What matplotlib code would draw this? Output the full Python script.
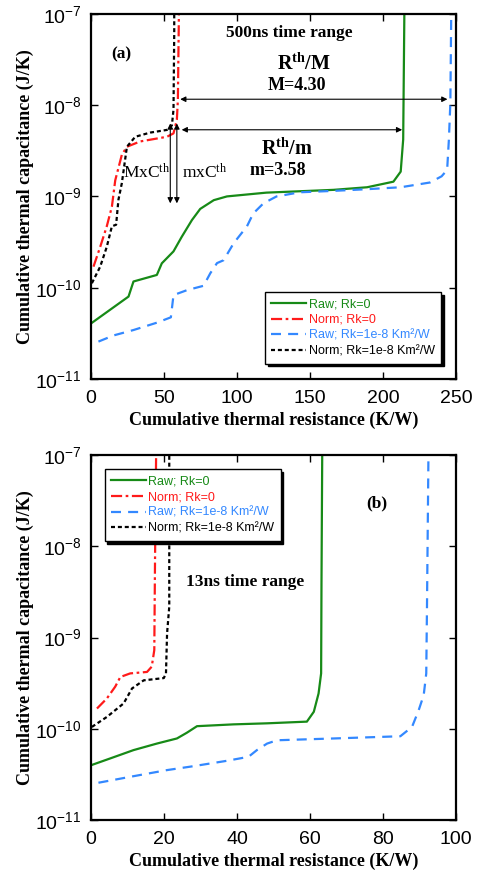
import numpy as np
import matplotlib
matplotlib.use("Agg")
import matplotlib.pyplot as plt
from matplotlib.ticker import FixedLocator, FuncFormatter

plt.rcParams['font.family'] = ['Liberation Sans', 'DejaVu Sans']
plt.rcParams['mathtext.fontset'] = 'custom'
plt.rcParams['mathtext.rm'] = 'Liberation Serif'
plt.rcParams['mathtext.bf'] = 'Liberation Serif:bold'
plt.rcParams['mathtext.sf'] = 'Liberation Sans'

# ---- panel (a): 500ns time range ----
a_raw_x = [0, 25.6, 29, 45, 48.4, 56.4, 62, 69, 74.7, 84, 93, 120, 166, 189, 207, 212, 213.7, 214.5]
a_raw_y = [4.07e-11, 8e-11, 1.17e-10, 1.38e-10, 1.85e-10, 2.5e-10, 3.6e-10, 5.5e-10, 7.3e-10,
           9.1e-10, 1.0e-9, 1.1e-9, 1.18e-9, 1.26e-9, 1.45e-9, 1.87e-9, 4.2e-9, 1e-7]
a_norm_x = [1.6, 6.2, 10.7, 14.2, 16.5, 21, 24.5, 33.6, 51.9, 56.4, 58.7, 59.4, 60.1]
a_norm_y = [1.7e-10, 2.8e-10, 4.7e-10, 7.7e-10, 1.5e-9, 2.85e-9, 3.5e-9, 4.0e-9, 4.5e-9,
            4.9e-9, 6.9e-9, 1.14e-8, 1e-7]
a_rawk_x = [5, 15.3, 29, 45, 54.6, 56.4, 65.6, 77, 81.6, 86.2, 90.7, 97.6, 106.7, 111, 118, 127,
            143, 166, 189, 212, 232, 240, 243.8, 245, 246, 246.6]
a_rawk_y = [2.57e-11, 3.0e-11, 3.44e-11, 4.14e-11, 4.74e-11, 8.3e-11, 9.4e-11, 1.05e-10, 1.44e-10,
            1.86e-10, 2.0e-10, 3.07e-10, 4.7e-10, 6.5e-10, 8.4e-10, 1.0e-9, 1.11e-9, 1.15e-9,
            1.2e-9, 1.26e-9, 1.42e-9, 1.66e-9, 1.95e-9, 4.2e-9, 1.05e-8, 1e-7]
a_normk_x = [0.5, 6.2, 10.7, 14.2, 17.1, 18.7, 21, 24.5, 30.2, 40.4, 51.9, 55.3, 56.4, 56.9, 56.9]
a_normk_y = [1.12e-10, 1.7e-10, 2.8e-10, 4.7e-10, 4.9e-10, 9.2e-10, 1.39e-9, 3.5e-9, 4.5e-9,
             5.0e-9, 5.35e-9, 6.0e-9, 8.9e-9, 6.1e-8, 1e-7]

# ---- panel (b): 13ns time range ----
b_raw_x = [0, 5.2, 11.6, 18, 23.5, 26.2, 29, 39, 48.2, 59.1, 61, 62.3, 63, 63.1, 63.3]
b_raw_y = [4.0e-11, 4.74e-11, 5.85e-11, 6.9e-11, 7.85e-11, 9.06e-11, 1.07e-10, 1.12e-10,
           1.15e-10, 1.2e-10, 1.54e-10, 2.44e-10, 4.05e-10, 3.9e-9, 1e-7]
b_norm_x = [1.6, 4.3, 6.6, 8, 10.7, 15.3, 16.6, 17.3, 17.5, 17.8]
b_norm_y = [1.67e-10, 2.15e-10, 2.9e-10, 3.7e-10, 4.05e-10, 4.2e-10, 4.8e-10, 7.3e-10, 7.1e-9, 1e-7]
b_rawk_x = [2, 11.6, 20.7, 28, 37.2, 43.1, 45.4, 48.2, 50.9, 66.5, 84.7, 87.9, 89.7, 91.1,
            91.8, 92.0, 92.4]
b_rawk_y = [2.57e-11, 3.03e-11, 3.53e-11, 3.9e-11, 4.47e-11, 4.94e-11, 5.85e-11, 6.9e-11,
            7.5e-11, 7.85e-11, 8.3e-11, 1.05e-10, 1.59e-10, 2.34e-10, 4.05e-10, 2.18e-9, 1e-7]
b_normk_x = [0.2, 4.3, 8.9, 11.2, 14.4, 19.9, 20.5, 20.8, 21.4, 21.4]
b_normk_y = [1.05e-10, 1.35e-10, 1.9e-10, 2.77e-10, 3.4e-10, 3.6e-10, 4.05e-10, 1.11e-9,
             2.18e-9, 1e-7]

labels = ['Raw; Rk=0', 'Norm; Rk=0', 'Raw; Rk=1e-8 Km\u00b2/W', 'Norm; Rk=1e-8 Km\u00b2/W']
colors = ['#178a17', '#ff1a1a', '#3388ff', '#000000']
dash_styles = [None, (5, 1.6, 1.2, 1.6), (4.5, 3.2), (1.8, 1.3)]

a_ticks_x = [0, 50, 100, 150, 200, 250]
b_ticks_x = [0, 20, 40, 60, 80, 100]
y_ticks = [1e-11, 1e-10, 1e-9, 1e-8, 1e-7]

serif = ['Liberation Serif', 'DejaVu Serif']


def draw_series(ax, xs, ys):
    lines = []
    for x, y, c, d in zip(xs, ys, colors, dash_styles):
        ln, = ax.plot(x, y, color=c, lw=1.6)
        if d is not None:
            ln.set_dashes(d)
        lines.append(ln)
    return lines


def style_axes(ax, xmax, xticks):
    ax.set_yscale('log')
    ax.set_xlim(0, xmax)
    ax.set_ylim(1e-11, 1e-7)
    ax.xaxis.set_major_locator(FixedLocator(xticks))
    ax.yaxis.set_major_locator(FixedLocator(y_ticks))
    ax.yaxis.set_minor_locator(FixedLocator([]))
    ax.yaxis.set_major_formatter(FuncFormatter(
        lambda v, p: r'$\mathsf{10^{%d}}$' % int(round(np.log10(v)))))
    ax.tick_params(direction='in', length=5, width=1, top=True, right=True,
                   labelsize=14)
    ax.tick_params(axis='x', pad=8)
    ax.tick_params(axis='y', pad=7)
    for s in ax.spines.values():
        s.set_linewidth(1.6)
    ax.set_xlabel('Cumulative thermal resistance (K/W)', family=serif,
                  fontweight='bold', fontsize=13, labelpad=3)
    ax.set_ylabel('Cumulative thermal capacitance (J/K)', family=serif,
                  fontweight='bold', fontsize=13, labelpad=1)


def add_legend(ax, lines, loc, anchor):
    leg = ax.legend(lines, labels, loc=loc, bbox_to_anchor=anchor, fontsize=9,
                    handlelength=2.8, handletextpad=0.2, labelspacing=0.3,
                    fancybox=False, framealpha=1, edgecolor='black',
                    shadow={'color': 'black', 'alpha': 1}, borderpad=0.5)
    leg.get_frame().set_linewidth(1)
    for t, c in zip(leg.get_texts(), colors):
        t.set_color(c)
    leg.set_zorder(5)
    return leg


fig = plt.figure(figsize=(4.9, 8.8), dpi=100)

# panel (a)
ax1 = fig.add_axes([0.186, 0.5693, 0.745, 0.415])
l1 = draw_series(ax1, [a_raw_x, a_norm_x, a_rawk_x, a_normk_x],
                 [a_raw_y, a_norm_y, a_rawk_y, a_normk_y])
style_axes(ax1, 250, a_ticks_x)
add_legend(ax1, l1, 'lower right', (0.975, 0.025))

ax1.text(136, 6.1e-8, '500ns time range', family=serif, fontweight='bold',
         fontsize=12.5, ha='center', va='center')
ax1.text(21, 3.55e-8, '(a)', family=serif, fontweight='bold', fontsize=12.5,
         ha='center', va='center')
ax1.text(146, 2.9e-8, r'$\mathbf{R^{th}/M}$', fontsize=14.5, ha='center', va='center')
ax1.text(141, 1.66e-8, 'M=4.30', family=serif, fontweight='bold', fontsize=13,
         ha='center', va='center')
ax1.text(134, 3.4e-9, r'$\mathbf{R^{th}/m}$', fontsize=14.5, ha='center', va='center')
ax1.text(128, 1.9e-9, 'm=3.58', family=serif, fontweight='bold', fontsize=13,
         ha='center', va='center')
ax1.text(38, 1.86e-9, r'$\mathrm{MxC^{th}}$', fontsize=12.5, ha='center', va='center')
ax1.text(78, 1.86e-9, r'$\mathrm{mxC^{th}}$', fontsize=12.5, ha='center', va='center')

arrow = dict(arrowstyle='<|-|>', color='black', lw=0.8, mutation_scale=8,
             shrinkA=0, shrinkB=0)
ax1.annotate('', xy=(61, 1.16e-8), xytext=(244, 1.16e-8), arrowprops=arrow)
ax1.annotate('', xy=(62, 5.37e-9), xytext=(213, 5.37e-9), arrowprops=arrow)
ax1.annotate('', xy=(54.2, 6.3e-9), xytext=(54.2, 8.4e-10), arrowprops=arrow)
ax1.annotate('', xy=(58.7, 6.3e-9), xytext=(58.7, 8.4e-10), arrowprops=arrow)

# panel (b)
ax2 = fig.add_axes([0.186, 0.068, 0.745, 0.415])
l2 = draw_series(ax2, [b_raw_x, b_norm_x, b_rawk_x, b_normk_x],
                 [b_raw_y, b_norm_y, b_rawk_y, b_normk_y])
style_axes(ax2, 100, b_ticks_x)
add_legend(ax2, l2, 'upper left', (0.02, 0.978))

ax2.text(78.3, 2.94e-8, '(b)', family=serif, fontweight='bold', fontsize=12.5,
         ha='center', va='center')
ax2.text(42.2, 4.07e-9, '13ns time range', family=serif, fontweight='bold',
         fontsize=12.5, ha='center', va='center')

fig.savefig('out.png', dpi=100)
